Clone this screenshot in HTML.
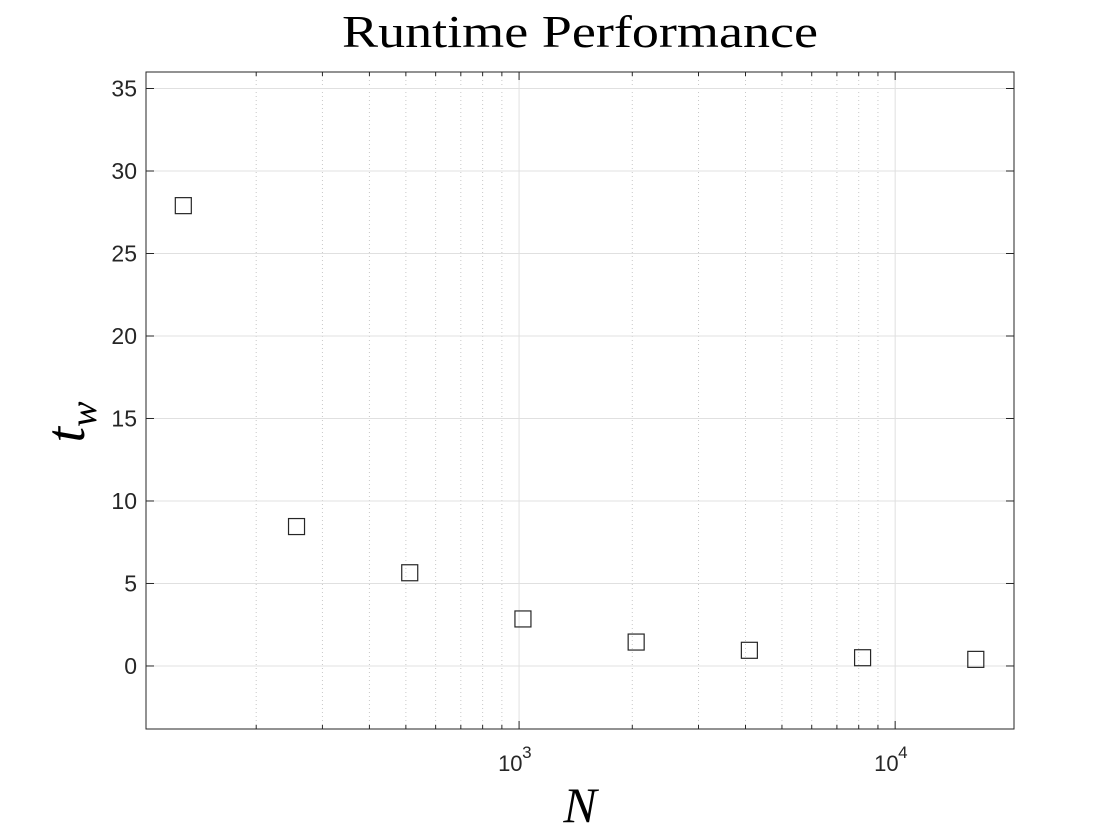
<!DOCTYPE html>
<html><head><meta charset="utf-8"><style>
body{margin:0;background:#fff;}
svg{display:block;}
</style></head><body>
<svg id="chart" width="1120" height="840" xmlns="http://www.w3.org/2000/svg"></svg>
<script>
const nValues=[128,256,512,1024,2048,4096,8192,16384];
const twValues=[27.9,8.45,5.65,2.85,1.45,0.95,0.5,0.4];
const yTicks=[0,5,10,15,20,25,30,35];
const xMajor=[1000,10000];
const xMajorLabels=["3","4"];
const xMinor=[200,300,400,500,600,700,800,900,2000,3000,4000,5000,6000,7000,8000,9000];

const L=146,R=1014,T=72,B=729;
const yMin=-3.82,yMax=36.0;
const xMinLog=2.008,xMaxLog=4.316;
const sx=v=>L+(Math.log10(v)-xMinLog)/(xMaxLog-xMinLog)*(R-L);
const sy=v=>B-(v-yMin)/(yMax-yMin)*(B-T);
const svg=document.getElementById('chart');
const NS='http://www.w3.org/2000/svg';
function mk(tag,attrs,text){const e=document.createElementNS(NS,tag);for(const k in attrs)e.setAttribute(k,attrs[k]);if(text!==undefined)e.textContent=text;svg.appendChild(e);return e;}

xMinor.forEach(v=>{const x=sx(v);if(x>L&&x<R){
const g=mk('line',{x1:x,x2:x,y1:T,y2:B,stroke:'#c8c8c8','stroke-width':1,'stroke-dasharray':'1,3'});

}});
xMajor.forEach((v,i)=>{const x=sx(v);
const g=mk('line',{x1:x,x2:x,y1:T,y2:B,stroke:'#e0e0e0','stroke-width':1});


mk('line',{x1:x,x2:x,y1:B,y2:B-8,stroke:'#262626'});
mk('line',{x1:x,x2:x,y1:T,y2:T+8,stroke:'#262626'});
const t=mk('text',{x:x-21,y:771,'font-family':'Liberation Sans, sans-serif','font-size':22,fill:'#262626'},'10');


const e=mk('text',{x:x+3,y:758,'font-family':'Liberation Sans, sans-serif','font-size':17,fill:'#262626'},xMajorLabels[i]);


});
xMinor.forEach(v=>{const x=sx(v);if(x>L&&x<R){mk('line',{x1:x,x2:x,y1:B,y2:B-4,stroke:'#262626'});mk('line',{x1:x,x2:x,y1:T,y2:T+4,stroke:'#262626'});}});
yTicks.forEach(v=>{const y=sy(v);
const g=mk('line',{x1:L,x2:R,y1:y,y2:y,stroke:'#e0e0e0','stroke-width':1});


mk('line',{x1:L,x2:L+8,y1:y,y2:y,stroke:'#262626'});
mk('line',{x1:R,x2:R-8,y1:y,y2:y,stroke:'#262626'});
const t=mk('text',{x:L-9,y:y+8,'font-family':'Liberation Sans, sans-serif','font-size':23,fill:'#262626','text-anchor':'end'},String(v));


});
const box=mk('rect',{x:L,y:T,width:R-L,height:B-T,fill:'none',stroke:'#262626','stroke-width':1});


nValues.forEach((n,i)=>{const x=sx(n),y=sy(twValues[i]);
const r=mk('rect',{x:x-8,y:y-8,width:16,height:16,fill:'none',stroke:'#262626','stroke-width':1.2});


});
const title=mk('text',{x:342,y:47,'font-family':'Liberation Serif, serif','font-size':46,fill:'#000',textLength:476,lengthAdjust:'spacingAndGlyphs'},'Runtime Performance');


const xl=mk('text',{x:580,y:822,'font-family':'Liberation Serif, serif','font-size':50,'font-style':'italic',fill:'#000','text-anchor':'middle'},'N');


const yl=mk('text',{x:0,y:0,'font-family':'Liberation Serif, serif','font-size':56,'font-style':'italic',fill:'#000',transform:'translate(84,422) rotate(-90)','text-anchor':'middle'});


yl.innerHTML='t<tspan font-size="38" dy="12">w</tspan>';
</script>
</body></html>
